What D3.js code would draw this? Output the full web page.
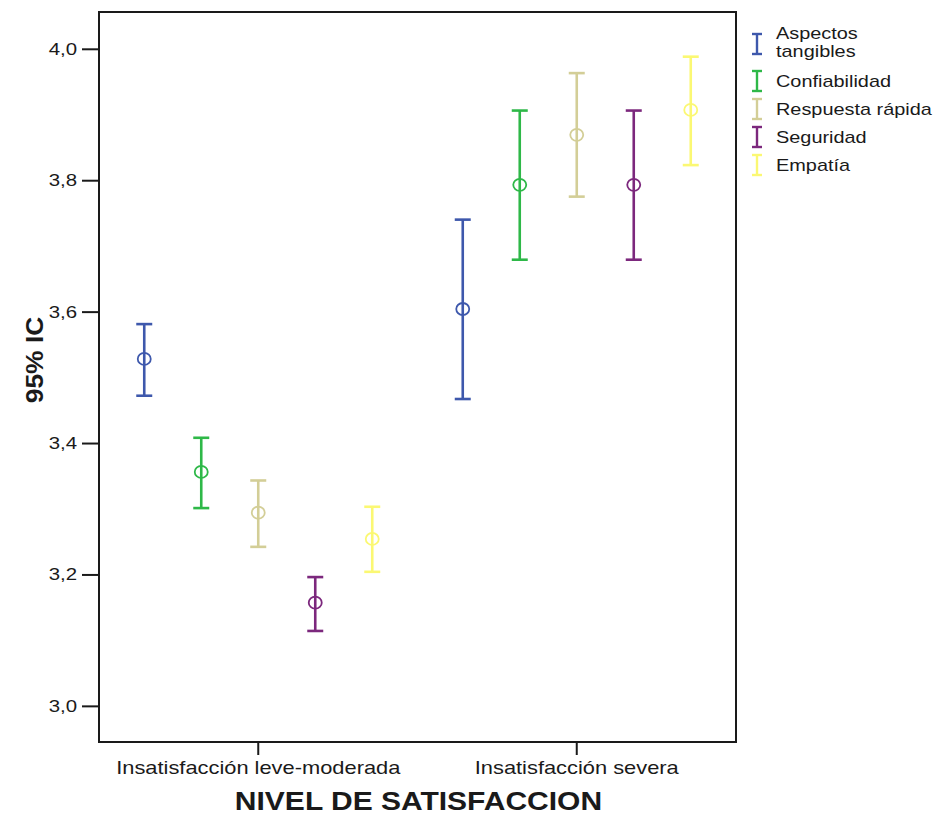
<!DOCTYPE html>
<html>
<head>
<meta charset="utf-8">
<script src="https://cdn.jsdelivr.net/npm/d3@7"></script>
<style>
html,body{margin:0;padding:0;background:#fff;}
svg{display:block;}
text{font-family:"Liberation Sans",Arial,sans-serif;fill:#1a1a1a;}
</style>
</head>
<body>
<svg id="chart" width="949" height="815"></svg>
<script>
const categories = ["Insatisfacción leve-moderada", "Insatisfacción severa"];
const series = ["Aspectos tangibles", "Confiabilidad", "Respuesta rápida", "Seguridad", "Empatía"];
const colors = ["#3e58ac", "#2eb848", "#d3ce97", "#7c287d", "#fbf873"];
const meanAspectos = [3.528, 3.604];
const meanConfiabilidad = [3.356, 3.793];
const meanRespuesta = [3.294, 3.869];
const meanSeguridad = [3.157, 3.793];
const meanEmpatia = [3.254, 3.907];
const lowAspectos = [3.472, 3.467];
const lowConfiabilidad = [3.301, 3.679];
const lowRespuesta = [3.242, 3.775];
const lowSeguridad = [3.114, 3.679];
const lowEmpatia = [3.204, 3.823];
const highAspectos = [3.581, 3.740];
const highConfiabilidad = [3.408, 3.906];
const highRespuesta = [3.343, 3.963];
const highSeguridad = [3.196, 3.906];
const highEmpatia = [3.303, 3.988];
const yTicks = [3.0, 3.2, 3.4, 3.6, 3.8, 4.0];
const yTitle = "95% IC";
const xTitle = "NIVEL DE SATISFACCION";

const means = [meanAspectos, meanConfiabilidad, meanRespuesta, meanSeguridad, meanEmpatia];
const lows = [lowAspectos, lowConfiabilidad, lowRespuesta, lowSeguridad, lowEmpatia];
const highs = [highAspectos, highConfiabilidad, highRespuesta, highSeguridad, highEmpatia];

const rows = [];
series.forEach((s, si) => categories.forEach((c, ci) => rows.push({
  s, si, c, mean: means[si][ci], lo: lows[si][ci], hi: highs[si][ci]
})));

// horizontally widen text (the reference is stretched)
function stretch(sel, k) {
  sel.each(function () {
    const n = this.getComputedTextLength();
    d3.select(this).attr("textLength", n * k).attr("lengthAdjust", "spacingAndGlyphs");
  });
}

const svg = d3.select("#chart");
const L = 99, R = 736, T = 12, B = 742;

const x = d3.scaleBand().domain(categories).range([L, R]);
const xs = d3.scalePoint().domain(series).range([-114, 114]);
const y = d3.scaleLinear().domain([2.945, 4.056]).range([B, T]);
const color = d3.scaleOrdinal().domain(series).range(colors);

// frame
svg.append("rect").attr("x", L).attr("y", T).attr("width", R - L).attr("height", B - T)
  .attr("fill", "none").attr("stroke", "#1a1a1a").attr("stroke-width", 2);

// y axis
const yAxis = d3.axisLeft(y).tickValues(yTicks).tickSize(17).tickPadding(5)
  .tickFormat(d => d3.format(".1f")(d).replace(".", ","));
const gy = svg.append("g").attr("transform", `translate(${L},0)`).call(yAxis);
gy.select(".domain").remove();
gy.selectAll(".tick line").attr("stroke", "#1a1a1a").attr("stroke-width", 2);
gy.selectAll(".tick text").style("font-size", "17px").style("font-family", "Liberation Sans, Arial, sans-serif").attr("fill", "#1a1a1a");
stretch(gy.selectAll(".tick text"), 1.2);

// x axis
const xAxis = d3.axisBottom(x).tickSize(13).tickPadding(6);
const gx = svg.append("g").attr("transform", `translate(0,${B})`).call(xAxis);
gx.select(".domain").remove();
gx.selectAll(".tick line").attr("stroke", "#1a1a1a").attr("stroke-width", 2);
gx.selectAll(".tick text").style("font-size", "19px").style("font-family", "Liberation Sans, Arial, sans-serif").attr("fill", "#1a1a1a");
stretch(gx.selectAll(".tick text"), 1.15);

// titles
const xt = svg.append("text").attr("x", (L + R) / 2 + 1).attr("y", 810).attr("text-anchor", "middle")
  .style("font-size", "25px").style("font-weight", "bold").text(xTitle);
stretch(xt, 1.2);
const yt = svg.append("text").attr("transform", "translate(43,360) rotate(-90)").attr("text-anchor", "middle")
  .style("font-family", "'Liberation Sans Narrow','Arial Narrow',sans-serif")
  .style("font-size", "24px").style("font-weight", "bold").text(yTitle);
stretch(yt, 1.1);

// error bars
const bars = svg.append("g").selectAll("g").data(rows).join("g")
  .attr("transform", d => `translate(${x(d.c) + x.bandwidth() / 2 + xs(d.s)},0)`)
  .attr("stroke", d => color(d.s)).attr("fill", "none");
bars.append("line").attr("y1", d => y(d.lo)).attr("y2", d => y(d.hi)).attr("stroke-width", 2.6);
bars.append("line").attr("x1", -8).attr("x2", 8).attr("y1", d => y(d.hi)).attr("y2", d => y(d.hi)).attr("stroke-width", 2.6);
bars.append("line").attr("x1", -8).attr("x2", 8).attr("y1", d => y(d.lo)).attr("y2", d => y(d.lo)).attr("stroke-width", 2.6);
bars.append("ellipse").attr("cy", d => y(d.mean)).attr("rx", 6.5).attr("ry", 6).attr("stroke-width", 1.8).attr("fill", "none");

// legend
const legY = [44, 81, 109, 137, 165];
const leg = svg.append("g").selectAll("g").data(series).join("g")
  .attr("transform", (d, i) => `translate(757,${legY[i]})`);
leg.append("line").attr("y1", -10).attr("y2", 10).attr("stroke", d => color(d)).attr("stroke-width", 2.4);
leg.append("line").attr("x1", -5).attr("x2", 5).attr("y1", -10).attr("y2", -10).attr("stroke", d => color(d)).attr("stroke-width", 2.4);
leg.append("line").attr("x1", -5).attr("x2", 5).attr("y1", 10).attr("y2", 10).attr("stroke", d => color(d)).attr("stroke-width", 2.4);
leg.append("text").style("font-size", "17px")
  .each(function (d) {
    const t = d3.select(this);
    if (d === "Aspectos tangibles") {
      t.append("tspan").attr("x", 19).attr("y", -5).text("Aspectos");
      t.append("tspan").attr("x", 19).attr("y", 13).text("tangibles");
    } else {
      t.attr("x", 19).attr("y", 6).text(d);
    }
  });
leg.selectAll("text").filter(d => d !== "Aspectos tangibles").call(stretch, 1.17);
leg.selectAll("tspan").each(function () {
  const n = this.getComputedTextLength();
  d3.select(this).attr("textLength", n * 1.17).attr("lengthAdjust", "spacingAndGlyphs");
});
</script>
</body>
</html>
